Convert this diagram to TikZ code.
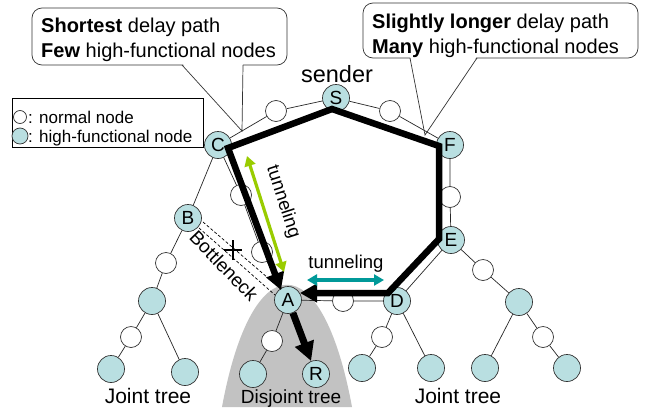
\documentclass[tikz,border=0pt]{standalone}
\usepackage{fontspec}
\setmainfont{Liberation Sans}
\usetikzlibrary{arrows.meta}
\definecolor{hfcol}{HTML}{B9DFE1}
\definecolor{tgreen}{HTML}{99CC00}
\definecolor{tteal}{HTML}{009999}
\definecolor{dgray}{HTML}{C2C2C2}
\newcommand\fsz[1]{\fontsize{#1}{#1}\selectfont}
\begin{document}
\begin{tikzpicture}[x=1pt,y=-1pt,
  hf/.style={circle,draw=black!80,line width=0.7pt,fill=hfcol,minimum size=27pt,inner sep=0pt,font=\fsz{19}},
  nn/.style={circle,draw=black!80,line width=0.7pt,fill=white,minimum size=21pt,inner sep=0pt},
  ringline/.style={line width=0.7pt,black!85},
  bigpath/.style={line width=6.5pt,line join=miter,black},
  bigtip/.style={-{Triangle[length=19pt,width=19pt]}},
  tunarrow/.style={line width=3.2pt,{Triangle[length=10pt,width=11pt]}-{Triangle[length=10pt,width=11pt]}},
  callout/.style={draw=black!80,line width=0.7pt,fill=white,rounded corners=10pt},
  lbl/.style={inner sep=0pt,anchor=base},
]
\useasboundingbox (0,0) rectangle (647,407);
\fill[white] (0,0) rectangle (647,407);

% disjoint tree area
\fill[dgray] (222,407) .. controls (252,244) and (322,244) .. (352,407) -- cycle;

% callouts
\draw[callout] (32,8) rectangle (287,65);
\fill[white] (182,63) -- (242,131) -- (243,63) -- cycle;
\draw[black!80,line width=0.7pt] (182,65) -- (242,131) -- (243,65);
\node[inner sep=0pt,anchor=base west,font=\fsz{20}] (cl1) at (41,32) {\textbf{Shortest} delay path};
\node[inner sep=0pt,anchor=base west,font=\fsz{20}] (cl2) at (41,57) {\textbf{Few} high-functional nodes};

\draw[callout] (363,3) rectangle (638,58);
\fill[white] (410,56) -- (425,135) -- (477,56) -- cycle;
\draw[black!80,line width=0.7pt] (410,58) -- (425,135) -- (477,58);
\node[inner sep=0pt,anchor=base west,font=\fsz{20}] (cr1) at (372,28) {\textbf{Slightly longer} delay path};
\node[inner sep=0pt,anchor=base west,font=\fsz{20}] (cr2) at (372,53) {\textbf{Many} high-functional nodes};

% legend
\draw[black,line width=0.7pt,fill=white] (12,98) rectangle (203,147);
\node[nn,minimum size=13pt] (lg1) at (20,117) {};
\node[hf,minimum size=16pt] (lg2) at (20,136) {};
\node[inner sep=0pt,anchor=base west,font=\fsz{17}] (lt1) at (28,123) {: normal node};
\node[inner sep=0pt,anchor=base west,font=\fsz{17}] (lt2) at (28,142) {: high-functional node};

% ring nodes
\node[hf] (S) at (336,98) {S};
\node[nn] (nL) at (276,111) {};
\node[hf] (C) at (218,145) {C};
\node[nn] (n1) at (241,195) {};
\node[nn] (n2) at (262,252) {};
\node[hf] (A) at (288,300) {A};
\node[nn] (nA) at (343,301) {};
\node[hf] (D) at (397,301) {D};
\node[hf] (E) at (451,240) {E};
\node[nn] (nFE) at (450,197) {};
\node[hf] (F) at (450,145) {F};
\node[nn] (nR) at (390,111) {};

% left tree
\node[hf] (B) at (188,218) {B};
\node[nn] (b1) at (166,263) {};
\node[hf] (b2) at (152,301) {};
\node[nn] (b3) at (131,337) {};
\node[hf] (b4) at (111,369) {};
\node[hf] (b5) at (185,372) {};

% disjoint tree
\node[nn] (a1) at (272,341) {};
\node[hf] (a2) at (253,374) {};
\node[hf] (R) at (316,374) {R};

% D tree
\node[nn] (d1) at (382,337) {};
\node[hf] (d2) at (362,368) {};
\node[hf] (d3) at (431,368) {};

% E tree
\node[nn] (e1) at (483,270) {};
\node[hf] (e2) at (519,302) {};
\node[hf] (e3) at (485,368) {};
\node[nn] (e4) at (543,337) {};
\node[hf] (e5) at (567,368) {};

% edges
\draw[ringline] (S)--(nL) (nL)--(C) (C)--(n1) (n1)--(n2) (n2)--(A) (A)--(nA) (nA)--(D)
  (D)--(E) (E)--(nFE) (nFE)--(F) (F)--(nR) (nR)--(S);
\draw[ringline] (C)--(B) (B)--(b1) (b1)--(b2) (b2)--(b3) (b3)--(b4) (b2)--(b5)
  (A)--(a1) (a1)--(a2) (D)--(d1) (d1)--(d2) (D)--(d3)
  (E)--(e1) (e1)--(e2) (e2)--(e3) (e2)--(e4) (e4)--(e5);

% bottleneck
\coordinate (bn1) at (203,222);
\coordinate (bn2) at (282,290);
\coordinate (bn3) at (199,228);
\coordinate (bn4) at (275,295);
\draw[line width=0.7pt,dash pattern=on 3pt off 2pt] (bn1) -- (bn2);
\draw[line width=0.7pt,dash pattern=on 3pt off 2pt] (bn3) -- (bn4);
\coordinate (xc) at (233,250);
\draw[line width=1.4pt] ([xshift=-9pt]xc) -- ([xshift=9pt]xc) ([yshift=-10pt]xc) -- ([yshift=10pt]xc);
\node[lbl,anchor=center,rotate=-46,font=\fsz{19}] (bnl) at (224,266) {Bottleneck};

% thick delay paths
\coordinate (Sv) at (332,109);
\coordinate (Cv) at (228,148);
\coordinate (Fv) at (439,146);
\coordinate (Ev) at (439,239);
\coordinate (Dv) at (388,293);
\coordinate (Ar) at (300,293);
\coordinate (Ad) at (281,290);
\draw[bigpath,{Triangle[length=17pt,width=18pt]}-{Triangle[length=17pt,width=18pt]}]
  (Ad) -- (Cv) -- (Sv) -- (Fv) -- (Ev) -- (Dv) -- (Ar);
\draw[bigpath,bigtip,line width=7pt] (A) -- (R);

% tunneling arrows
\coordinate (g1) at (247,156);
\coordinate (g2) at (284,272);
\draw[tunarrow,tgreen] (g1) -- (g2);
\node[anchor=center,inner sep=0pt,rotate=-72,font=\fsz{18.5}] (tg) at (283,202) {tunneling};
\coordinate (t1) at (307,280);
\coordinate (t2) at (384,280);
\draw[tunarrow,tteal,line width=3.6pt] (t1) -- (t2);
\node[lbl,font=\fsz{18.5}] (tt) at (346,268) {tunneling};

% labels
\node[lbl,font=\fsz{23.5}] (snd) at (337,82) {sender};
\node[lbl,font=\fsz{21}] (jt1) at (148,403) {Joint tree};
\node[lbl,font=\fsz{21}] (jt2) at (458,403) {Joint tree};
\node[lbl,font=\fsz{19}] (djt) at (291,403) {Disjoint tree};
\end{tikzpicture}
\end{document}
